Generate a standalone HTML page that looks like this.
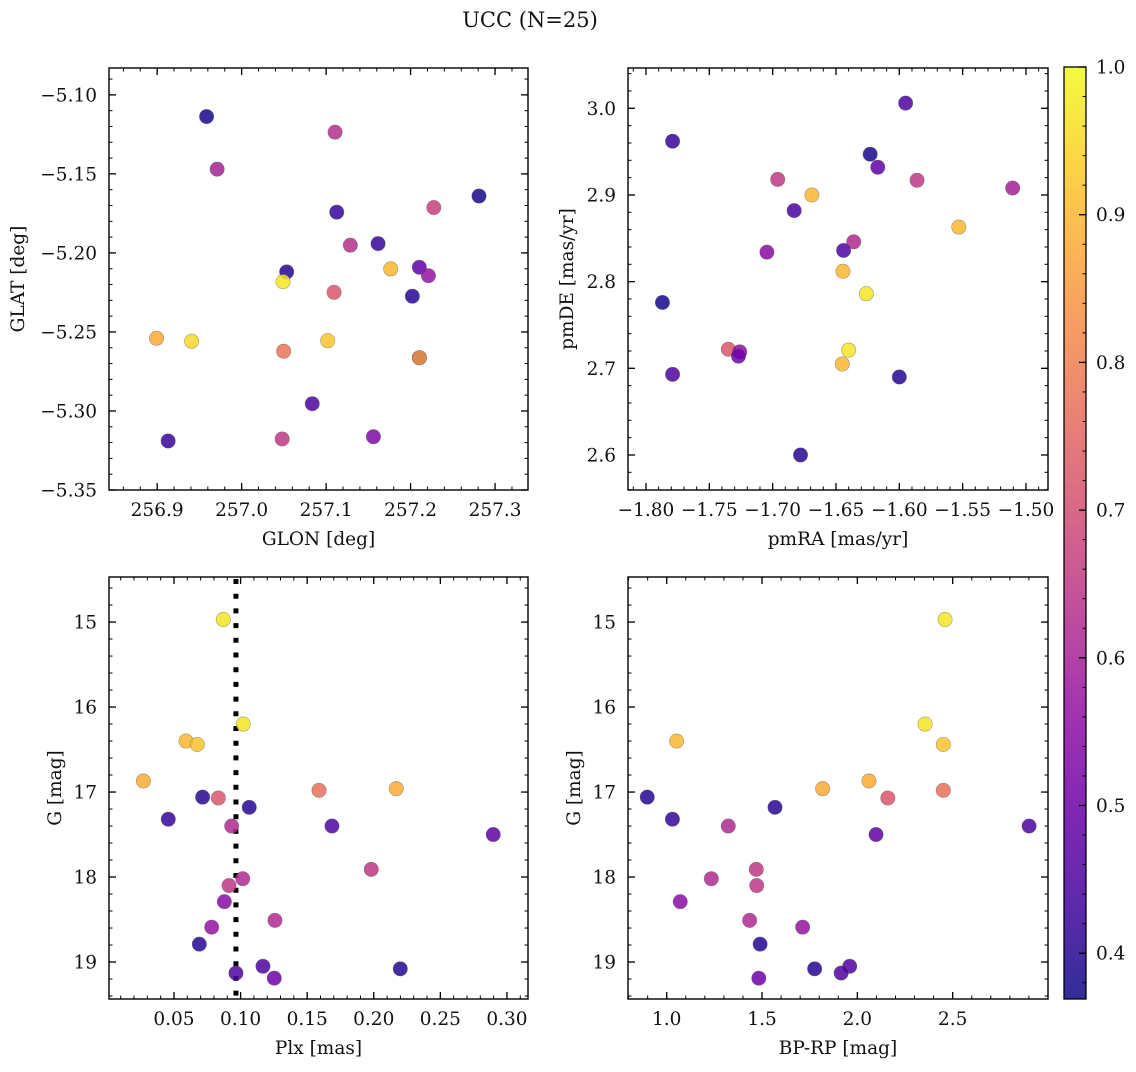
<!DOCTYPE html>
<html><head><meta charset="utf-8">
<style>
html,body{margin:0;padding:0;background:#fff;}
svg text{font-family:"DejaVu Serif","Liberation Serif",serif;fill:#111;}
</style></head>
<body>
<svg id="fig" width="1136" height="1067" viewBox="0 0 1136 1067" xmlns="http://www.w3.org/2000/svg">
<text x="530" y="27" font-size="21" text-anchor="middle">UCC (N=25)</text>
</svg>
<script>
// ---- data ----
const glon = [256.9585,257.1106,256.971,257.281,257.2275,257.1126,257.1287,257.1615,257.0533,257.049,257.1765,257.2104,257.2211,257.1094,257.2021,256.8993,256.9408,257.1019,257.0498,257.2104,257.2104,257.0836,256.913,257.048,257.156];
const glat = [-5.1137,-5.1236,-5.147,-5.164,-5.1713,-5.1742,-5.1951,-5.1941,-5.212,-5.2182,-5.2101,-5.2091,-5.2144,-5.2249,-5.2274,-5.254,-5.2559,-5.2555,-5.2622,-5.2663,-5.2663,-5.2954,-5.319,-5.3177,-5.3163];
const probP1 = [0.38,0.63,0.6,0.38,0.67,0.42,0.63,0.42,0.40,0.97,0.9,0.48,0.57,0.72,0.40,0.88,0.95,0.92,0.78,0.40,0.85,0.45,0.42,0.65,0.53];

const pmra = [-1.595,-1.779,-1.623,-1.617,-1.696,-1.586,-1.5105,-1.669,-1.683,-1.553,-1.636,-1.644,-1.7045,-1.6445,-1.626,-1.787,-1.735,-1.726,-1.727,-1.640,-1.645,-1.779,-1.600,-1.678];
const pmde = [3.006,2.962,2.947,2.932,2.918,2.917,2.908,2.900,2.882,2.863,2.846,2.836,2.834,2.812,2.786,2.776,2.722,2.719,2.714,2.721,2.705,2.693,2.690,2.600];
const probP2 = [0.45,0.42,0.38,0.48,0.65,0.65,0.6,0.9,0.45,0.9,0.62,0.45,0.55,0.9,0.97,0.38,0.72,0.55,0.5,0.97,0.9,0.45,0.40,0.40];

const plx = [0.0870,0.1020,0.0590,0.0675,0.027,0.0715,0.0833,0.1589,0.2169,0.1065,0.0457,0.0933,0.1686,0.2897,0.1981,0.1016,0.0913,0.0878,0.0783,0.1258,0.069,0.1168,0.2199,0.0965,0.1253];
const gmag = [14.97,16.20,16.40,16.44,16.87,17.06,17.07,16.98,16.96,17.18,17.32,17.40,17.40,17.50,17.91,18.02,18.10,18.29,18.59,18.51,18.79,19.05,19.08,19.13,19.19];
const probP3 = [0.97,0.97,0.9,0.92,0.88,0.40,0.72,0.77,0.88,0.40,0.42,0.62,0.45,0.48,0.65,0.62,0.65,0.55,0.57,0.62,0.40,0.45,0.40,0.45,0.5];
const plxLine = [0.0965];

const bprp = [2.460,2.355,1.052,2.451,2.061,1.818,2.451,2.160,0.898,1.568,1.030,1.323,2.901,2.098,1.470,1.234,1.472,1.071,1.713,1.435,1.490,1.960,1.776,1.915,1.483];
const gmag4 = [14.97,16.20,16.40,16.44,16.87,16.96,16.98,17.07,17.06,17.18,17.32,17.40,17.40,17.50,17.91,18.02,18.10,18.29,18.59,18.51,18.79,19.05,19.08,19.13,19.19];
const probP4 = [0.97,0.97,0.9,0.92,0.88,0.88,0.77,0.72,0.40,0.40,0.42,0.62,0.45,0.48,0.65,0.62,0.65,0.55,0.57,0.62,0.40,0.45,0.40,0.45,0.5];

const p1XTicks = [256.9,257.0,257.1,257.2,257.3];
const p1YTicks = [-5.10,-5.15,-5.20,-5.25,-5.30,-5.35];
const p2XTicks = [-1.80,-1.75,-1.70,-1.65,-1.60,-1.55,-1.50];
const p2YTicks = [2.6,2.7,2.8,2.9,3.0];
const p3XTicks = [0.05,0.10,0.15,0.20,0.25,0.30];
const gTicks = [15,16,17,18,19];
const p4XTicks = [1.0,1.5,2.0,2.5];
const cbTicks = [0.4,0.5,0.6,0.7,0.8,0.9,1.0];
const cMin = 0.369, cMax = 1.0;

// ---- helpers ----
const NS = "http://www.w3.org/2000/svg";
const svg = document.getElementById('fig');
const FS = 18.5;
function mk(tag, attrs, parent){
  const e = document.createElementNS(NS, tag);
  for (const k in attrs) e.setAttribute(k, attrs[k]);
  (parent||svg).appendChild(e);
  return e;
}
const plasma = [[13,8,135],[65,4,157],[106,0,168],[143,13,164],[177,42,144],[204,71,120],[225,100,98],[242,132,75],[252,166,54],[252,206,37],[240,249,33]];
function cmap(v){
  let t = (v - cMin)/(cMax - cMin); t = Math.max(0, Math.min(1, t));
  const f = t*10, i = Math.min(9, Math.floor(f)), r = f - i;
  const a = plasma[i], b = plasma[i+1];
  return `rgb(${Math.round(a[0]+(b[0]-a[0])*r)},${Math.round(a[1]+(b[1]-a[1])*r)},${Math.round(a[2]+(b[2]-a[2])*r)})`;
}
function fmt(v, d){ const s = v.toFixed(d); return s.replace('-', '\u2212'); }
function minors(lo, hi, step){
  const out = []; const n0 = Math.ceil(lo/step - 1e-6), n1 = Math.floor(hi/step + 1e-6);
  for (let n=n0;n<=n1;n++) out.push(n*step);
  return out;
}

function panel(o){
  const g = mk('g', {});
  
  
  const sx = v => o.x0 + (v - o.xmin)/(o.xmax - o.xmin)*(o.x1 - o.x0);
  const sy = o.invert ? (v => o.y0 + (v - o.ymin)/(o.ymax - o.ymin)*(o.y1 - o.y0))
                      : (v => o.y1 - (v - o.ymin)/(o.ymax - o.ymin)*(o.y1 - o.y0));
  if (o.vline) {
    const l = mk('line', {x1: sx(o.vline[0]), x2: sx(o.vline[0]), y1: o.y0+2, y2: o.y1, stroke:'#000','stroke-width':5,'stroke-dasharray':'5 9.7'}, g);
    
    
  }
  for (let i=0;i<o.xs.length;i++){
    const c = mk('circle', {cx: sx(o.xs[i]), cy: sy(o.ys[i]), r: 7.2, fill: cmap(o.cs[i]), 'fill-opacity': 0.85, stroke:'rgba(90,90,90,0.55)', 'stroke-width':0.6}, g);
    
    
  }
  const fr = mk('rect', {x:o.x0, y:o.y0, width:o.x1-o.x0, height:o.y1-o.y0, fill:'none', stroke:'#000', 'stroke-width':1.4}, g);
  
  
  const lo = Math.min(o.ymin,o.ymax), hi = Math.max(o.ymin,o.ymax);
  minors(o.xmin, o.xmax, o.xminor).forEach(v => {
    const x = sx(v);
    mk('line',{x1:x,x2:x,y1:o.y1,y2:o.y1-3.5,stroke:'#000','stroke-width':1},g);
    mk('line',{x1:x,x2:x,y1:o.y0,y2:o.y0+3.5,stroke:'#000','stroke-width':1},g);
  });
  minors(lo, hi, o.yminor).forEach(v => {
    const y = sy(v);
    mk('line',{x1:o.x0,x2:o.x0+3.5,y1:y,y2:y,stroke:'#000','stroke-width':1},g);
    mk('line',{x1:o.x1,x2:o.x1-3.5,y1:y,y2:y,stroke:'#000','stroke-width':1},g);
  });
  o.xt.forEach(v => {
    const x = sx(v);
    mk('line',{x1:x,x2:x,y1:o.y1,y2:o.y1-7,stroke:'#000','stroke-width':1.3},g);
    mk('line',{x1:x,x2:x,y1:o.y0,y2:o.y0+7,stroke:'#000','stroke-width':1.3},g);
    const t = mk('text',{x:x,y:o.y1+26,'font-size':FS,'text-anchor':'middle'},g);
    t.textContent = fmt(v, o.xd);
    
    
  });
  o.yt.forEach(v => {
    const y = sy(v);
    mk('line',{x1:o.x0,x2:o.x0+7,y1:y,y2:y,stroke:'#000','stroke-width':1.3},g);
    mk('line',{x1:o.x1,x2:o.x1-7,y1:y,y2:y,stroke:'#000','stroke-width':1.3},g);
    const t = mk('text',{x:o.x0-12,y:y+6.5,'font-size':FS,'text-anchor':'end'},g);
    t.textContent = fmt(v, o.yd);
    
    
  });
  const xl = mk('text',{x:(o.x0+o.x1)/2,y:o.y1+55,'font-size':FS,'text-anchor':'middle'},g);
  xl.textContent = o.xlabel;
  
  
  const yl = mk('text',{x:0,y:0,'font-size':FS,'text-anchor':'middle',transform:`translate(${o.ylx},${(o.y0+o.y1)/2}) rotate(-90)`},g);
  yl.textContent = o.ylabel;
  
  
}

panel({name:'glon-glat-panel',x0:109,x1:528,y0:68,y1:490,xmin:256.843,xmax:257.339,ymin:-5.35,ymax:-5.083,
  xs:glon,ys:glat,cs:probP1,xt:p1XTicks,yt:p1YTicks,xd:1,yd:2,xminor:0.02,yminor:0.01,xlabel:'GLON [deg]',ylabel:'GLAT [deg]',ylx:24});
panel({name:'pm-panel',x0:628,x1:1048,y0:68,y1:490,xmin:-1.8142,xmax:-1.4826,ymin:2.5596,ymax:3.0465,
  xs:pmra,ys:pmde,cs:probP2,xt:p2XTicks,yt:p2YTicks,xd:2,yd:1,xminor:0.01,yminor:0.02,xlabel:'pmRA [mas/yr]',ylabel:'pmDE [mas/yr]',ylx:573});
panel({name:'plx-g-panel',x0:109,x1:528,y0:577,y1:999,xmin:0.0012,xmax:0.3158,ymin:14.47,ymax:19.435,invert:true,
  xs:plx,ys:gmag,cs:probP3,xt:p3XTicks,yt:gTicks,xd:2,yd:0,xminor:0.01,yminor:0.2,xlabel:'Plx [mas]',ylabel:'G [mag]',ylx:61,vline:plxLine});
panel({name:'cmd-panel',x0:628,x1:1048,y0:577,y1:999,xmin:0.797,xmax:3.0,ymin:14.47,ymax:19.435,invert:true,
  xs:bprp,ys:gmag4,cs:probP4,xt:p4XTicks,yt:gTicks,xd:1,yd:0,xminor:0.1,yminor:0.2,xlabel:'BP-RP [mag]',ylabel:'G [mag]',ylx:580});

// colorbar
(function(){
  const x0=1064,x1=1086,y0=67,y1=999;
  const g = mk('g',{});
  
  
  const defs = mk('defs',{},g);
  const lg = mk('linearGradient',{id:'cbg',x1:0,y1:1,x2:0,y2:0},defs);
  for (let k=0;k<=20;k++){
    const v = cMin + (cMax-cMin)*k/20;
    mk('stop',{offset:(k/20), 'stop-color':cmap(v), 'stop-opacity':0.85},lg);
  }
  mk('rect',{x:x0,y:y0,width:x1-x0,height:y1-y0,fill:'url(#cbg)',stroke:'#000','stroke-width':1.3},g);
  const sy = v => y1 - (v-cMin)/(cMax-cMin)*(y1-y0);
  minors(cMin,cMax,0.02).forEach(v=>{
    mk('line',{x1:x1,x2:x1-3.5,y1:sy(v),y2:sy(v),stroke:'#000','stroke-width':1},g);
  });
  cbTicks.forEach(v=>{
    const y=sy(v);
    mk('line',{x1:x1,x2:x1-7,y1:y,y2:y,stroke:'#000','stroke-width':1.3},g);
    const t = mk('text',{x:x1+10,y:y+6.5,'font-size':FS},g);
    t.textContent = v.toFixed(1);
    
    
  });
})();
</script>
</body></html>
